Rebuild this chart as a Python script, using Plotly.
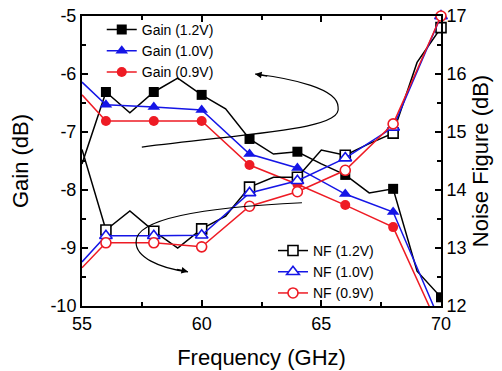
import plotly.graph_objects as go

# ---------------- data ----------------
freq_fine = [55, 56, 57, 58, 59, 60, 61, 62, 63, 64, 65, 66, 67, 68, 69, 70]
freq_main = [55, 56, 58, 60, 62, 64, 66, 68, 70]
marker_freqs = [56, 58, 60, 62, 64, 66, 68, 70]

gain_12 = [-7.55, -6.31, -6.67, -6.31, -6.07, -6.36, -6.60, -7.12, -7.38, -7.34,
           -7.55, -7.74, -8.05, -7.98, -9.40, -9.85]
gain_10 = [-6.14, -6.53, -6.57, -6.62, -7.38, -7.62, -8.07, -8.38, -10.30]
gain_09 = [-6.36, -6.81, -6.81, -6.81, -7.57, -7.90, -8.26, -8.64, -10.45]

nf_12 = [14.70, 13.31, 13.64, 13.29, 13.00, 13.33, 13.55, 14.05, 14.22, 14.22,
         14.69, 14.60, 14.80, 14.98, 16.20, 16.80]
nf_10 = [12.76, 13.21, 13.21, 13.22, 13.95, 14.16, 14.55, 15.08, 17.00]
nf_09 = [12.66, 13.09, 13.09, 13.02, 13.72, 13.97, 14.34, 15.14, 17.00]

x_ticks = [55, 60, 65, 70]
gain_ticks = [-10, -9, -8, -7, -6, -5]
gain_tick_labels = ["-10", "-9", "-8", "-7", "-6", "-5"]
nf_ticks = [12, 13, 14, 15, 16, 17]

FONT = "Liberation Sans, Arial, Helvetica, sans-serif"
BLACK = "#000000"
BLUE = "#1515e6"
RED = "#ee1b24"

series = [
    # name, x, y, color, symbol, filled, yaxis, legend
    ("Gain (1.2V)", freq_fine, gain_12, BLACK, "square", True, "y", "legend"),
    ("Gain (1.0V)", freq_main, gain_10, BLUE, "triangle-up", True, "y", "legend"),
    ("Gain (0.9V)", freq_main, gain_09, RED, "circle", True, "y", "legend"),
    ("NF (1.2V)", freq_fine, nf_12, BLACK, "square", False, "y2", "legend2"),
    ("NF (1.0V)", freq_main, nf_10, BLUE, "triangle-up", False, "y2", "legend2"),
    ("NF (0.9V)", freq_main, nf_09, RED, "circle", False, "y2", "legend2"),
]

fig = go.Figure()
for name, xs, ys, color, symbol, filled, yax, leg in series:
    size = 11 if symbol == "triangle-up" else 10
    marker = dict(symbol=symbol, size=size,
                  color=color if filled else "white",
                  line=dict(color=color, width=0 if filled else 1.6))
    # the curve itself
    fig.add_trace(go.Scatter(x=xs, y=ys, mode="lines", yaxis=yax,
                             line=dict(color=color, width=1.5),
                             showlegend=False, hoverinfo="skip"))
    # markers every 2 GHz
    mx = [x for x in xs if x in marker_freqs]
    my = [y for x, y in zip(xs, ys) if x in marker_freqs]
    fig.add_trace(go.Scatter(x=mx, y=my, mode="markers", yaxis=yax,
                             marker=marker, showlegend=False,
                             cliponaxis=(yax == "y"), name=name))
    # legend entry
    fig.add_trace(go.Scatter(x=[None], y=[None], mode="lines+markers", yaxis=yax,
                             line=dict(color=color, width=1.5), marker=marker,
                             name=name, legend=leg, showlegend=True))

# ---------------- annotation arrows ----------------
upper_path = ("M 57.5,-7.26 C 62.5,-7.0 65.9,-6.95 65.7,-6.57 "
              "C 65.7,-6.25 63.8,-6.08 62.23,-6.0")
lower_path = ("M 64.19,-8.22 C 60.0,-8.3 57.2,-8.5 57.26,-8.9 "
              "C 57.25,-9.15 58.2,-9.35 59.43,-9.41")
shapes = [
    dict(type="path", path=upper_path, xref="x", yref="y",
         line=dict(color=BLACK, width=1.2)),
    dict(type="path", path=lower_path, xref="x", yref="y",
         line=dict(color=BLACK, width=1.2)),
]
annotations = [
    dict(x=62.23, y=-6.0, ax=62.8, ay=-6.04, xref="x", yref="y", axref="x", ayref="y",
         showarrow=True, arrowhead=2, arrowsize=1.1, arrowwidth=1.2, arrowcolor=BLACK, text=""),
    dict(x=59.43, y=-9.41, ax=58.9, ay=-9.36, xref="x", yref="y", axref="x", ayref="y",
         showarrow=True, arrowhead=2, arrowsize=1.1, arrowwidth=1.2, arrowcolor=BLACK, text=""),
]

axis_common = dict(showgrid=False, zeroline=False, showline=True, linecolor=BLACK,
                   linewidth=2, ticks="inside", ticklen=6, tickwidth=1.5,
                   tickcolor=BLACK, automargin=False,
                   tickfont=dict(family=FONT, size=18, color=BLACK))

fig.update_layout(
    width=502, height=371,
    margin=dict(l=82, r=61, t=16, b=65, autoexpand=False),
    paper_bgcolor="white", plot_bgcolor="white",
    font=dict(family=FONT, color=BLACK),
    xaxis=dict(range=[55, 70], tickvals=x_ticks, mirror="ticks",
               minor=dict(dtick=2.5, tick0=55, ticks="inside", ticklen=4,
                          tickwidth=1.5, tickcolor=BLACK),
               title=dict(text="Frequency (GHz)", font=dict(family=FONT, size=22),
                          standoff=17),
               **axis_common),
    yaxis=dict(range=[-10, -5], tickvals=gain_ticks, ticktext=gain_tick_labels,
               minor=dict(dtick=0.5, ticks="inside", ticklen=4,
                          tickwidth=1.5, tickcolor=BLACK),
               title=dict(text="Gain (dB)", font=dict(family=FONT, size=22),
                          standoff=16),
               **axis_common),
    yaxis2=dict(range=[12, 17], tickvals=nf_ticks, overlaying="y", side="right",
                minor=dict(dtick=0.5, ticks="inside", ticklen=4,
                           tickwidth=1.5, tickcolor=BLACK),
                title=dict(text="Noise Figure (dB)", font=dict(family=FONT, size=22),
                           standoff=7),
                **axis_common),
    legend=dict(x=0.055, y=1.007, xanchor="left", yanchor="top",
                bgcolor="rgba(0,0,0,0)", font=dict(family=FONT, size=14)),
    legend2=dict(x=0.532, y=0.245, xanchor="left", yanchor="top",
                 bgcolor="rgba(0,0,0,0)", font=dict(family=FONT, size=14)),
    shapes=shapes,
    annotations=annotations,
)

fig.write_html("out.html")
